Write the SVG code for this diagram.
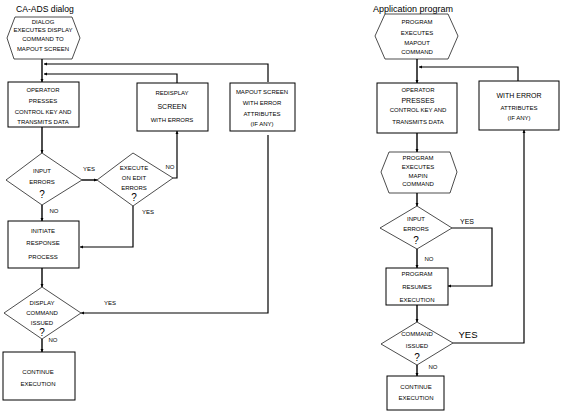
<svg xmlns="http://www.w3.org/2000/svg" width="563" height="413" viewBox="0 0 563 413">
<defs>
<marker id="ah" viewBox="0 0 10 10" refX="10" refY="5" markerWidth="3.2" markerHeight="3.2" markerUnits="userSpaceOnUse" orient="auto">
<path d="M0,0 L10,5 L0,10 z" fill="#000"/>
</marker>
<style>
.b{fill:#fff;stroke:#000;stroke-width:1}
.d{fill:#fff;stroke:#000;stroke-width:0.7}
.t{font-family:"Liberation Sans",Arial,sans-serif;font-size:6px;fill:#000;text-anchor:middle}
.m{font-size:7px}
.q{font-size:10px}
.ti{font-family:"Liberation Sans",Arial,sans-serif;font-size:8.6px;fill:#000}
.c{fill:none;stroke:#000;stroke-width:1.4;marker-end:url(#ah)}
.l{fill:none;stroke:#000;stroke-width:1.2;marker-end:url(#ah)}
</style>
</defs>
<rect width="563" height="413" fill="#fff"/>
<text class="ti" x="16" y="12">CA-ADS dialog</text>
<text class="ti" x="373" y="12" style="font-size:9px">Application program</text>

<g id="connectors">
<path class="c" d="M42,59 V82"/>
<path class="l" d="M268,82 V64 H44"/>
<path class="l" d="M177,83 V74 H44"/>
<path class="c" d="M42,127 V153"/>
<path class="c" d="M82,180 H97"/>
<path class="l" d="M173,178 H177 V131"/>
<path class="l" d="M133,206 V247 H80"/>
<path class="c" d="M42,205 V221"/>
<path class="c" d="M42,268 V287"/>
<path class="l" d="M268,135 V313 H81"/>
<path class="c" d="M42,339 V352"/>

<path class="c" d="M417,59 V83"/>
<path class="l" d="M518,81 V67 H419"/>
<path class="c" d="M417,133 V152"/>
<path class="c" d="M417,193 V206"/>
<path class="l" d="M452,228 H492 V286 H448"/>
<path class="c" d="M417,249 V268"/>
<path class="c" d="M417,305 V322"/>
<path class="l" d="M453,343 H524 V130"/>
<path class="c" d="M417,365 V376"/>
</g>

<g id="labels">
<text class="t" x="89" y="171">YES</text>
<text class="t" x="170" y="169">NO</text>
<text class="t" x="148" y="214">YES</text>
<text class="t" x="54" y="213">NO</text>
<text class="t" x="110" y="305">YES</text>
<text class="t" x="53" y="342">NO</text>
<text class="t" x="467" y="224" style="font-size:7px">YES</text>
<text class="t" x="429" y="261">NO</text>
<text class="t" x="468" y="338" style="font-size:9.5px">YES</text>
<text class="t" x="433" y="369">NO</text>
</g>

<g id="n1">
<polygon class="d" points="15,17 72,17 80,38 72,59 14,59 7,38"/>
<text class="t" x="43" y="24">DIALOG</text>
<text class="t" x="43" y="32">EXECUTES DISPLAY</text>
<text class="t" x="43" y="41">COMMAND TO</text>
<text class="t" x="43" y="51">MAPOUT SCREEN</text>
</g>
<g id="n2">
<rect class="b" x="8" y="82" width="71" height="45"/>
<text class="t" x="43" y="92">OPERATOR</text>
<text class="t" x="43" y="103">PRESSES</text>
<text class="t" x="43" y="114">CONTROL KEY AND</text>
<text class="t" x="43" y="124">TRANSMITS DATA</text>
</g>
<g id="n3">
<rect class="b" x="137" y="83" width="71" height="48"/>
<text class="t" x="172" y="95">REDISPLAY</text>
<text class="t m" x="172" y="109">SCREEN</text>
<text class="t" x="172" y="122">WITH ERRORS</text>
</g>
<g id="n4">
<rect class="b" x="230" y="83" width="65" height="48"/>
<text class="t" x="262" y="94">MAPOUT SCREEN</text>
<text class="t" x="262" y="105">WITH ERROR</text>
<text class="t" x="262" y="116">ATTRIBUTES</text>
<text class="t" x="262" y="126">(IF ANY)</text>
</g>
<g id="n5">
<polygon class="d" points="42,153 82,180 42,205 6,180"/>
<text class="t" x="42" y="173">INPUT</text>
<text class="t" x="42" y="184">ERRORS</text>
<text class="t q" x="42" y="198">?</text>
</g>
<g id="n6">
<polygon class="d" points="133,153 173,178 133,206 97,180"/>
<text class="t" x="134" y="170">EXECUTE</text>
<text class="t" x="134" y="180">ON EDIT</text>
<text class="t" x="134" y="190">ERRORS</text>
<text class="t q" x="134" y="201">?</text>
</g>
<g id="n7">
<rect class="b" x="8" y="221" width="71" height="47"/>
<text class="t" x="43" y="233">INITIATE</text>
<text class="t" x="43" y="245">RESPONSE</text>
<text class="t" x="43" y="259">PROCESS</text>
</g>
<g id="n8">
<polygon class="d" points="42,287 81,313 42,339 4,313"/>
<text class="t" x="42" y="305">DISPLAY</text>
<text class="t" x="42" y="315">COMMAND</text>
<text class="t" x="42" y="325">ISSUED</text>
<text class="t q" x="42" y="336">?</text>
</g>
<g id="n9">
<rect class="b" x="3" y="352" width="72" height="48"/>
<text class="t" x="38" y="374">CONTINUE</text>
<text class="t" x="38" y="386">EXECUTION</text>
</g>

<g id="n10">
<polygon class="d" points="385,14 448,14 458,36 448,59 385,59 375,36"/>
<text class="t" x="417" y="24">PROGRAM</text>
<text class="t" x="417" y="35">EXECUTES</text>
<text class="t" x="417" y="45">MAPOUT</text>
<text class="t" x="417" y="54">COMMAND</text>
</g>
<g id="n11">
<rect class="b" x="377" y="83" width="80" height="50"/>
<text class="t" x="418" y="92">OPERATOR</text>
<text class="t m" x="418" y="103">PRESSES</text>
<text class="t" x="418" y="112">CONTROL KEY AND</text>
<text class="t" x="418" y="124">TRANSMITS DATA</text>
</g>
<g id="n12">
<rect class="b" x="479" y="81" width="80" height="49"/>
<text class="t m" x="519" y="98">WITH ERROR</text>
<text class="t" x="519" y="110">ATTRIBUTES</text>
<text class="t" x="519" y="120">(IF ANY)</text>
</g>
<g id="n13">
<polygon class="d" points="389,152 450,152 457,172 450,193 389,193 381,172"/>
<text class="t" x="418" y="160">PROGRAM</text>
<text class="t" x="418" y="169">EXECUTES</text>
<text class="t" x="418" y="178">MAPIN</text>
<text class="t" x="418" y="186">COMMAND</text>
</g>
<g id="n14">
<polygon class="d" points="417,206 452,228 417,249 380,228"/>
<text class="t" x="416" y="221">INPUT</text>
<text class="t" x="416" y="231">ERRORS</text>
<text class="t q" x="416" y="244">?</text>
</g>
<g id="n15">
<rect class="b" x="386" y="268" width="62" height="37"/>
<text class="t" x="417" y="276">PROGRAM</text>
<text class="t" x="417" y="289">RESUMES</text>
<text class="t" x="417" y="302">EXECUTION</text>
</g>
<g id="n16">
<polygon class="d" points="417,322 453,343 417,365 381,344"/>
<text class="t" x="417" y="336">COMMAND</text>
<text class="t" x="417" y="348">ISSUED</text>
<text class="t q" x="417" y="361">?</text>
</g>
<g id="n17">
<rect class="b" x="387" y="376" width="57" height="34"/>
<text class="t" x="416" y="389">CONTINUE</text>
<text class="t" x="416" y="400">EXECUTION</text>
</g>
</svg>
